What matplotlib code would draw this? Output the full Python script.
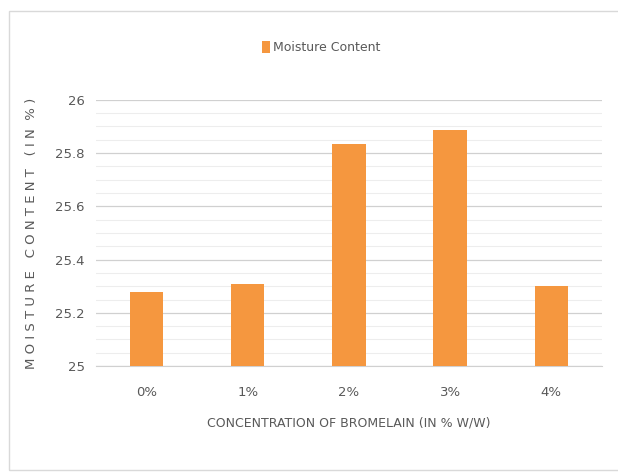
import matplotlib.pyplot as plt
from matplotlib.patches import Rectangle
from matplotlib.ticker import MultipleLocator

# data
categories = ["0%", "1%", "2%", "3%", "4%"]
moisture = [25.28, 25.31, 25.835, 25.885, 25.30]

bar_color = "#F5973F"
text_color = "#595959"

fig = plt.figure(figsize=(6.18, 4.73), dpi=100)
ax = fig.add_axes([0.155, 0.226, 0.819, 0.563])

ax.bar(categories, moisture, width=0.33, color=bar_color, label="Moisture Content", zorder=3)

ax.set_ylim(25, 26)
ax.set_xlim(-0.5, 4.5)
ax.yaxis.set_major_locator(MultipleLocator(0.2))
ax.yaxis.set_minor_locator(MultipleLocator(0.05))
ax.grid(axis="y", which="major", color="#D0D0D0", linewidth=0.9, zorder=0)
ax.grid(axis="y", which="minor", color="#EDEDED", linewidth=0.8, zorder=0)
ax.yaxis.set_major_formatter(plt.FuncFormatter(lambda v, p: f"{v:g}"))

for s in ["top", "right", "left"]:
    ax.spines[s].set_visible(False)
ax.spines["bottom"].set_color("#D0D0D0")
ax.tick_params(axis="both", which="both", length=0, colors=text_color, labelsize=9.5)
ax.tick_params(axis="x", pad=14)
ax.tick_params(axis="y", pad=8)

ax.set_xlabel("CONCENTRATION OF BROMELAIN (IN % W/W)", color=text_color,
              fontsize=9, labelpad=13)
ax.set_ylabel("M O I S T U R E   C O N T E N T   ( I N  % )", color=text_color,
              fontsize=9.5, labelpad=12)

fig.legend(loc="center", bbox_to_anchor=(0.52, 0.90), frameon=False,
           handlelength=0.6, handleheight=1.1, handletextpad=0.3,
           fontsize=9, labelcolor=text_color)

# chart frame
fig.patches.append(Rectangle((0.014, 0.006), 1.0, 0.971, transform=fig.transFigure,
                             fill=False, edgecolor="#D9D9D9", linewidth=1.0))

fig.savefig("out.png", dpi=100)
